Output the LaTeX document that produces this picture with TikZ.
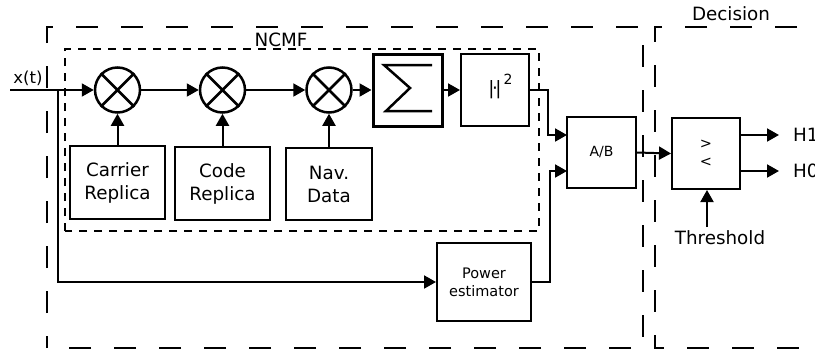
\documentclass[tikz,border=0pt]{standalone}
\usepackage{fontspec}
\setmainfont{DejaVu Sans}
\usetikzlibrary{arrows.meta,calc}
\begin{document}
\begin{tikzpicture}[x=1pt,y=-1pt,
  conn/.style={line width=2pt,-{Triangle[length=12pt,width=13pt]}},
  wire/.style={line width=2pt},
  blk/.style={draw,line width=2pt,inner sep=0pt,align=center,font=\fontsize{18.3}{23}\selectfont},
  mult/.style={draw,circle,line width=2.5pt,minimum size=45pt,inner sep=0pt},
  bigtxt/.style={font=\fontsize{18.3}{22}\selectfont,inner sep=0pt},
  smalltxt/.style={font=\fontsize{14.5}{17.5}\selectfont,inner sep=0pt,align=center},
  outerdash/.style={line width=2pt,dash pattern=on 22pt off 23pt},
  innerdash/.style={line width=2pt,dash pattern=on 8pt off 7pt}]
\useasboundingbox (0,0) rectangle (815,351);

% dashed frames
\draw[outerdash,dash phase=10pt] (47,348) -- (47,27) -- (643,27) -- (643,348) -- cycle;
\draw[outerdash,dash phase=12pt] (830,27) -- (655,27) -- (655,348) -- (830,348);
\draw[innerdash] (65,231) -- (65,49) -- (539,49) -- (539,231) -- cycle;

% labels of frames
\node[bigtxt] (ncmf) at (281,40) {NCMF};
\node[bigtxt] (decl) at (731,14) {Decision};

% multipliers
\node[mult] (m1) at (117.5,90) {};
\node[mult] (m2) at (222.5,90) {};
\node[mult] (m3) at (329,90) {};
\foreach \m in {m1,m2,m3}{
  \draw[line width=2.5pt] (\m.north west) -- (\m.south east) (\m.north east) -- (\m.south west);
}

% blocks
\node[blk,line width=3pt,minimum width=69pt,minimum height=72pt] (sum) at (407.5,90) {};
\draw[line width=2.5pt,line join=miter] (432,65) -- (384,65) -- (410,88) -- (386,111) -- (432,111);
\node[blk,minimum width=68pt,minimum height=72pt] (sq) at (495,90) {};
\node[bigtxt] (abs) at (495,90) {|\kern-2.5pt·\kern-2.5pt|};
\node[font=\fontsize{14}{14}\selectfont,inner sep=0pt] (two) at (508,79) {2};

\node[blk,minimum width=95pt,minimum height=73pt] (car) at (117.5,182.5) {Carrier\\Replica};
\node[blk,minimum width=95pt,minimum height=73pt] (code) at (222.5,183.5) {Code\\Replica};
\node[blk,minimum width=86pt,minimum height=72pt] (nav) at (329,184) {Nav.\\Data};
\node[blk,font=\fontsize{14.5}{18}\selectfont,minimum width=94pt,minimum height=78pt] (pe) at (484,282) {Power\\estimator};
\node[blk,font=\fontsize{14}{16}\selectfont,minimum width=69pt,minimum height=71pt] (ab) at (601.5,152.5) {A/B};
\node[blk,minimum width=68pt,minimum height=71pt] (dec) at (706,153.5) {};
\node[smalltxt] (gt) at (706,144) {>};
\node[smalltxt] (lt) at (706,162) {<};

% outputs and threshold
\node[bigtxt,anchor=west] (h1) at (793,135) {H1};
\node[bigtxt,anchor=west] (h0) at (793,171) {H0};
\node[bigtxt] (thr) at (720,238) {Threshold};
\node[font=\fontsize{16.5}{18}\selectfont,inner sep=0pt] (xt) at (28,78) {x(t)};

% coordinates
\coordinate (in) at (10,90);
\coordinate (br) at (58,90);
\coordinate (abin1) at (567,135);
\coordinate (abin2) at (567,171);
\coordinate (h1e) at (779,135);
\coordinate (h0e) at (779,171);
\coordinate (thrtop) at (707,227);

% connectors
\draw[conn] (in) -- (m1.west);
\draw[conn] (br) |- (pe.west);
\draw[conn] (m1.east) -- (m2.west);
\draw[conn] (m2.east) -- (m3.west);
\draw[conn] (m3.east) -- (sum.west);
\draw[conn] (sum.east) -- (sq.west);
\draw[conn] (car.north) -- (m1.south);
\draw[conn] (code.north) -- (m2.south);
\draw[conn] (nav.north) -- (m3.south);
\draw[conn] (sq.east) -- (548,90) |- (abin1);
\draw[conn] (pe.east) -- (550,282) |- (abin2);
\draw[conn] (ab.east) -- (dec.west);
\draw[conn] (dec.east |- h1e) -- (h1e);
\draw[conn] (dec.east |- h0e) -- (h0e);
\draw[conn] (thrtop) -- (thrtop |- dec.south);
\end{tikzpicture}
\end{document}
